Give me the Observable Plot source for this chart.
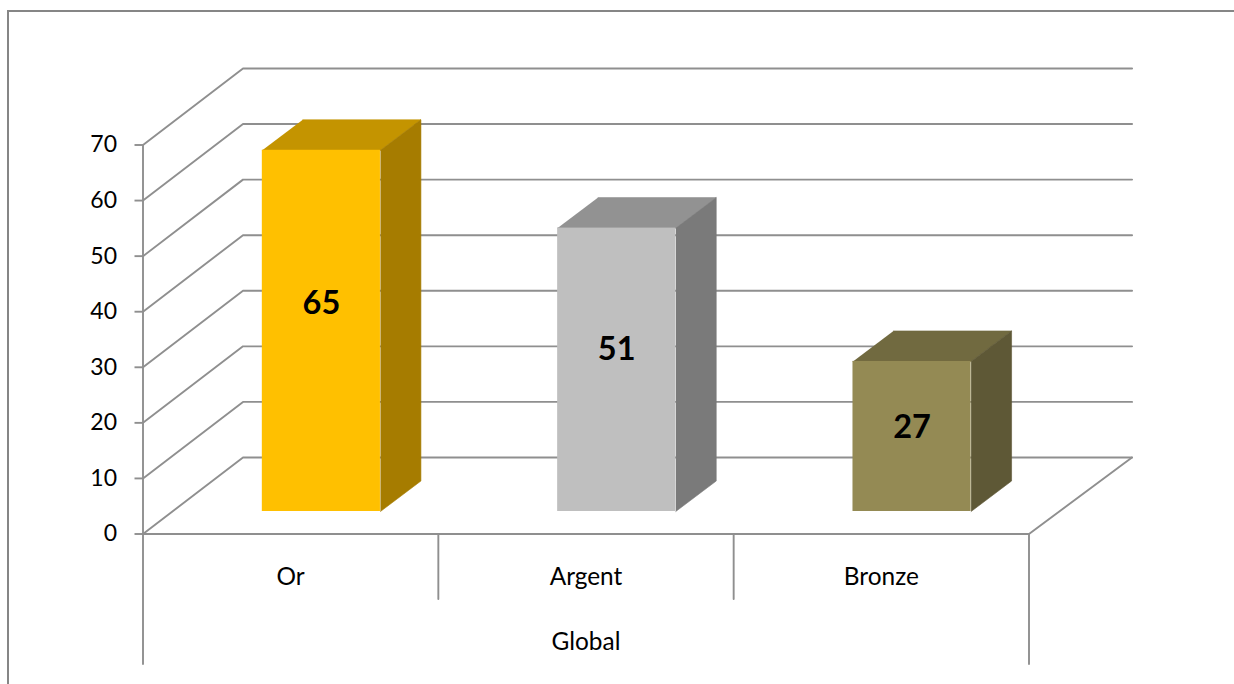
<!DOCTYPE html>
<html>
<head>
<meta charset="utf-8">
<script src="https://cdn.jsdelivr.net/npm/d3@7"></script>
<script src="https://cdn.jsdelivr.net/npm/@observablehq/plot@0.6"></script>
<style>
  html, body { margin: 0; padding: 0; background: #fff; overflow: hidden; }
  #page { position: relative; width: 1234px; height: 684px; overflow: hidden; }
  #edge { position: absolute; left: 7px; top: 10px; right: -4px; bottom: -4px;
          border-left: 2px solid #868686; border-top: 2px solid #868686; }
  #page svg { position: absolute; left: 0; top: 0; display: block; background: transparent; }
</style>
</head>
<body>
<div id="page"><div id="edge"></div></div>
<script>
const categories = ["Or", "Argent", "Bronze"];
const medals = [65, 51, 27];
const groupLabel = "Global";
const yTicks = [0, 10, 20, 30, 40, 50, 60, 70];
const frontColors = ["#FFC000", "#BFBFBF", "#948A54"];
const topColors = ["#C49400", "#929292", "#716A40"];
const sideColors = ["#A67C00", "#7A7A7A", "#5E5836"];

// Perspective of the 3D box, in axis units.
const wallDx = 0.3386, wallDy = 13.77, wallEnd = 3 + 0.349;
const barLeft = 0.404, barWidth = 0.4;
const floorLift = 4.05, depthDx = 0.137, depthDy = 5.49;
const axisFloor = -23.4, sepFloor = -11.7;
const gridColor = "#8f8f8f", gridWidth = 1.9;

const rules = [];
yTicks.forEach(v => {
  rules.push({id: "d" + v, x: 0, y: v});
  rules.push({id: "d" + v, x: wallDx, y: v + wallDy});
  rules.push({id: "d" + v, x: wallEnd, y: v + wallDy});
});
rules.push({id: "front", x: 0, y: 0}, {id: "front", x: 3, y: 0});
rules.push({id: "rdiag", x: 3, y: 0}, {id: "rdiag", x: 3 + wallDx + 0.01, y: wallDy});
rules.push({id: "left", x: 0, y: 70}, {id: "left", x: 0, y: axisFloor});
rules.push({id: "right", x: 3, y: 0}, {id: "right", x: 3, y: axisFloor});
rules.push({id: "s1", x: 1, y: 0}, {id: "s1", x: 1, y: sepFloor});
rules.push({id: "s2", x: 2, y: 0}, {id: "s2", x: 2, y: sepFloor});

const bars = categories.map((c, i) => {
  const x1 = i + barLeft, x2 = x1 + barWidth, y1 = floorLift, y2 = y1 + medals[i];
  return {c, i, x1, x2, y1, y2};
});
const faces = [];
bars.forEach(b => {
  [[b.x1, b.y2], [b.x2, b.y2], [b.x2 + depthDx, b.y2 + depthDy], [b.x1 + depthDx, b.y2 + depthDy]]
    .forEach(([x, y]) => faces.push({id: "t" + b.i, x, y, fill: topColors[b.i]}));
  [[b.x2, b.y1], [b.x2 + depthDx, b.y1 + depthDy], [b.x2 + depthDx, b.y2 + depthDy], [b.x2, b.y2]]
    .forEach(([x, y]) => faces.push({id: "s" + b.i, x, y, fill: sideColors[b.i]}));
});

const chart = Plot.plot({
  width: 1234,
  height: 684,
  marginLeft: 142.5,
  marginRight: 205.5,
  marginTop: 144.5,
  marginBottom: 150.5,
  style: {fontFamily: "Lato, sans-serif", fontSize: "22px", color: "#000", background: "transparent"},
  x: {domain: [0, 3], axis: null},
  y: {domain: [0, 70], axis: null},
  color: {type: "identity"},
  marks: [
    Plot.line(rules, {x: "x", y: "y", z: "id", stroke: gridColor, strokeWidth: gridWidth}),
    Plot.axisY(yTicks, {anchor: "left", tickSize: 8, tickPadding: 18, stroke: gridColor, strokeWidth: gridWidth,
      fill: "#000", fontSize: 23, label: null, tickFormat: d => String(d)}),
    Plot.line(faces, {x: "x", y: "y", z: "id", fill: "fill", stroke: "fill", strokeWidth: 0.6}),
    Plot.rect(bars, {x1: "x1", x2: "x2", y1: "y1", y2: "y2", fill: (d, i) => frontColors[i]}),
    Plot.text(bars, {x: d => d.x1 + barWidth / 2, y: d => 3.3 + 0.587 * medals[d.i], text: d => String(medals[d.i]),
      fontSize: 32.5, fontWeight: 700, fill: "#000"}),
    Plot.text(categories, {x: (d, i) => i + 0.5, y: -7.7, text: d => d, fontSize: 24.4, fill: "#000"}),
    Plot.text([groupLabel], {x: 1.5, y: -19.5, text: d => d, fontSize: 24.4, fill: "#000"})
  ]
});
document.getElementById("page").appendChild(chart);
</script>
</body>
</html>
